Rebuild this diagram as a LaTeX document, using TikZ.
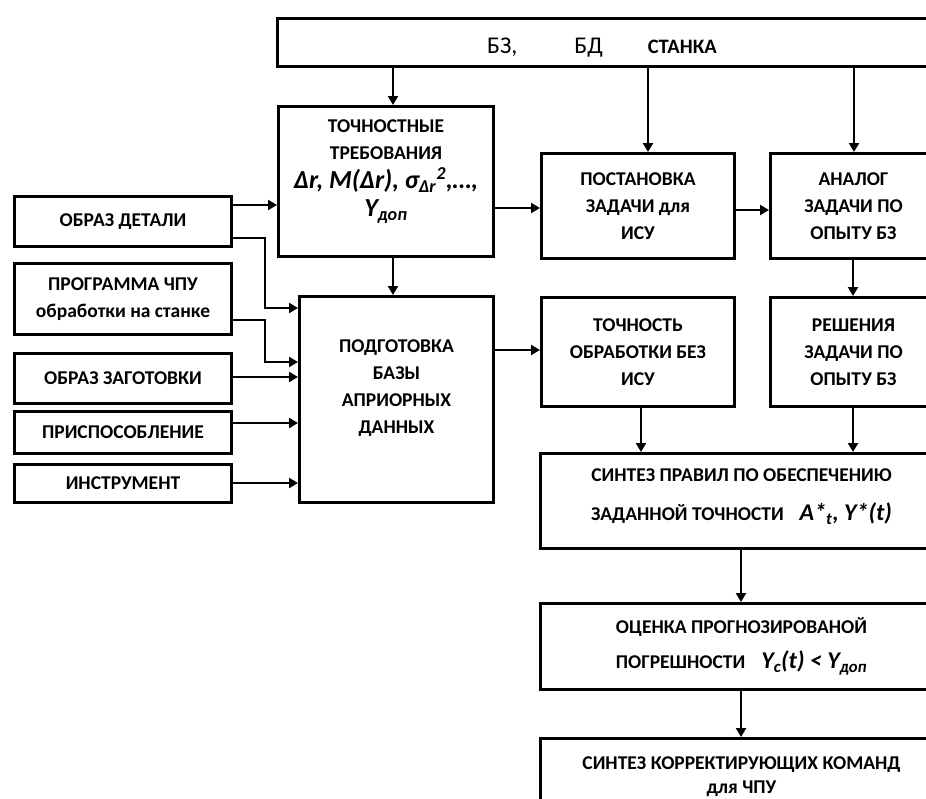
\documentclass[tikz,border=0pt]{standalone}
\usepackage{fontspec}
\setmainfont{Carlito}
\usetikzlibrary{arrows.meta}
\newcommand{\mf}{\bfseries\itshape\fontsize{26}{27}\selectfont}
\newcommand{\mfs}{\bfseries\itshape\fontsize{24}{27}\selectfont}
\begin{document}
\begin{tikzpicture}[x=1pt,y=-1pt,
  box/.style={draw, line width=3pt, align=center, inner sep=0pt, anchor=north west,
    font=\bfseries\fontsize{19.5}{27}\selectfont},
  arr/.style={line width=2.5pt, -{Triangle[length=9pt,width=10pt]}}]
\useasboundingbox (0,0) rectangle (926,798);
\clip (0,0) rectangle (926,798);

% top box
\node[box, minimum width=680pt, minimum height=48pt] (bz) at (276,17) {};
\node[anchor=base west, inner sep=0pt] (bzlabel) at (487,53)
  {\fontsize{24}{26}\selectfont БЗ,\hspace{57pt}БД\hspace{45pt}{\bfseries\fontsize{20.5}{24}\selectfont СТАНКА}};

% accuracy requirements
\node[box, minimum width=215pt, minimum height=150pt, text depth=26pt] (toch) at (277,105)
  {ТОЧНОСТНЫЕ\\ТРЕБОВАНИЯ\\[2pt]{\mf Δr, M(Δr), σ\textsubscript{Δr}\textsuperscript{2},…,}\\[1pt]{\mf Y\textsubscript{доп}}};

% left input boxes
\node[box, minimum width=217pt, minimum height=50pt] (obraz) at (13,195) {ОБРАЗ ДЕТАЛИ};
\node[box, minimum width=217pt, minimum height=71pt] (prog) at (13,262) {ПРОГРАММА ЧПУ\\обработки на станке};
\node[box, minimum width=217pt, minimum height=50pt] (zag) at (13,352) {ОБРАЗ ЗАГОТОВКИ};
\node[box, minimum width=217pt, minimum height=42pt] (prisp) at (13,410) {ПРИСПОСОБЛЕНИЕ};
\node[box, minimum width=217pt, minimum height=38pt] (instr) at (13,463) {ИНСТРУМЕНТ};

% a priori data
\node[box, minimum width=194pt, minimum height=206pt, text depth=26pt] (podg) at (298,295)
  {ПОДГОТОВКА\\БАЗЫ\\АПРИОРНЫХ\\ДАННЫХ};

% middle / right boxes
\node[box, minimum width=193pt, minimum height=105pt] (post) at (540,152) {ПОСТАНОВКА\\ЗАДАЧИ для\\ИСУ};
\node[box, minimum width=166pt, minimum height=105pt] (analog) at (769,152) {АНАЛОГ\\ЗАДАЧИ ПО\\ОПЫТУ БЗ};
\node[box, minimum width=193pt, minimum height=109pt] (tochn) at (540,296) {ТОЧНОСТЬ\\ОБРАБОТКИ БЕЗ\\ИСУ};
\node[box, minimum width=166pt, minimum height=109pt] (resh) at (769,296) {РЕШЕНИЯ\\ЗАДАЧИ ПО\\ОПЫТУ БЗ};

% bottom chain
\node[box, minimum width=402pt, minimum height=95pt, text depth=12pt] (sint) at (539,452)
  {СИНТЕЗ ПРАВИЛ ПО ОБЕСПЕЧЕНИЮ\\[12pt]ЗАДАННОЙ ТОЧНОСТИ\hspace{16pt}{\mfs A*\textsubscript{t}, Y*(t)}};
\node[box, minimum width=402pt, minimum height=86pt] (ocen) at (539,602)
  {ОЦЕНКА ПРОГНОЗИРОВАНОЙ\\[8pt]ПОГРЕШНОСТИ\hspace{16pt}{\mfs Y\textsubscript{c}(t) < Y\textsubscript{доп}}};
\node[box, minimum width=402pt, minimum height=76pt] (korr) at (539,737)
  {СИНТЕЗ КОРРЕКТИРУЮЩИХ КОМАНД\\[-3pt]для ЧПУ};

% connectors
\draw[arr] (393,0 |- bz.south) -- (393,0 |- toch.north);
\draw[arr] (648,0 |- bz.south) -- (648,0 |- post.north);
\draw[arr] (854,0 |- bz.south) -- (854,0 |- analog.north);
\draw[arr] (obraz.east |- 0,205) -- (toch.west |- 0,205);
\draw[arr] (obraz.east |- 0,238) -- (265,238) -- (265,308) -- (podg.west |- 0,308);
\draw[arr] (prog.east |- 0,320) -- (265,320) -- (265,362) -- (podg.west |- 0,362);
\draw[arr] (zag.east |- 0,377) -- (podg.west |- 0,377);
\draw[arr] (prisp.east |- 0,423) -- (podg.west |- 0,423);
\draw[arr] (instr.east |- 0,483) -- (podg.west |- 0,483);
\draw[arr] (393,0 |- toch.south) -- (393,0 |- podg.north);
\draw[arr] (toch.east |- 0,208) -- (post.west |- 0,208);
\draw[arr] (post.east |- 0,210) -- (analog.west |- 0,210);
\draw[arr] (podg.east |- 0,350) -- (tochn.west |- 0,350);
\draw[arr] (853,0 |- analog.south) -- (853,0 |- resh.north);
\draw[arr] (641,0 |- tochn.south) -- (641,0 |- sint.north);
\draw[arr] (853,0 |- resh.south) -- (853,0 |- sint.north);
\draw[arr] (741,0 |- sint.south) -- (741,0 |- ocen.north);
\draw[arr] (741,0 |- ocen.south) -- (741,0 |- korr.north);
\end{tikzpicture}
\end{document}
